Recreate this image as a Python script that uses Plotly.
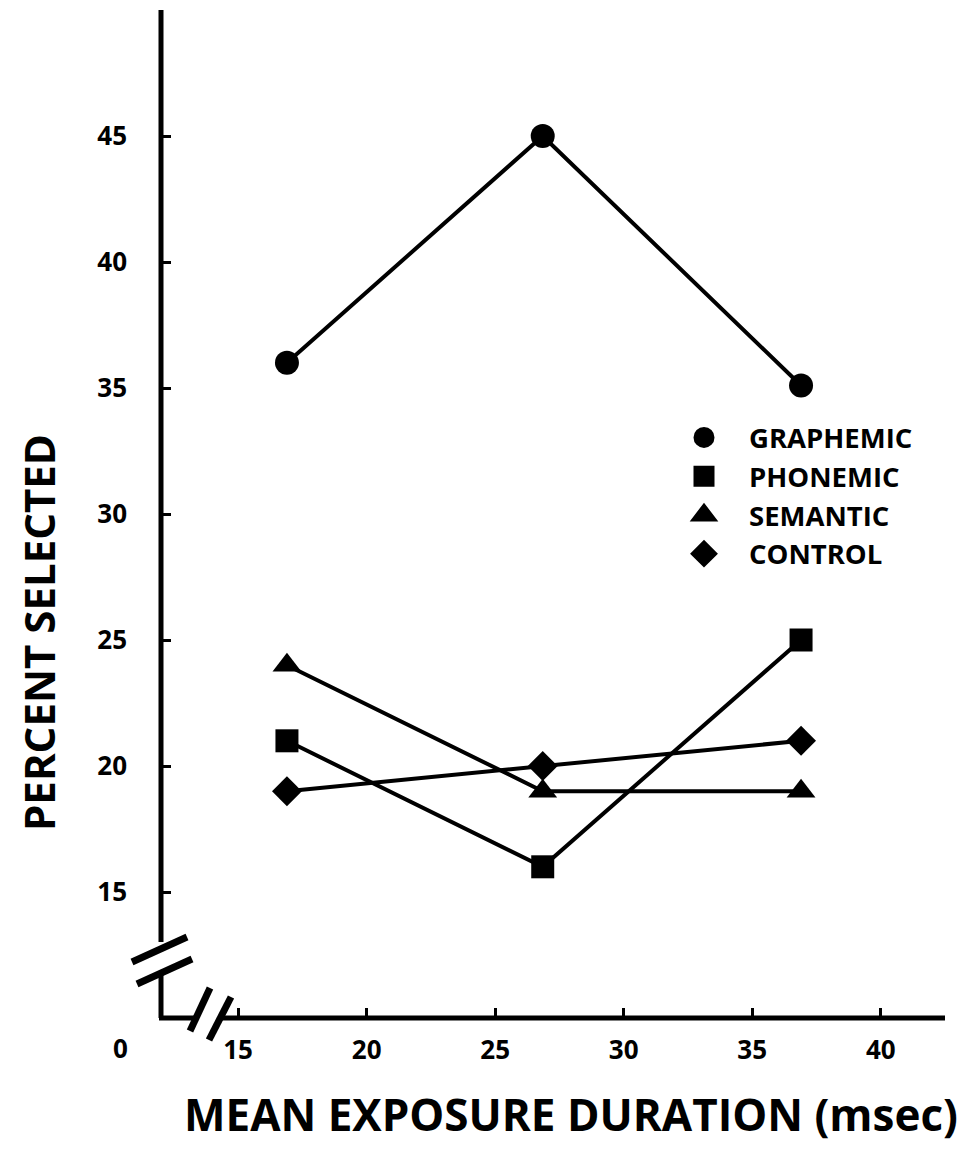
import plotly.graph_objects as go

# ---- data ----
durations = [16.9, 26.85, 36.9]
graphemic = [36, 45, 35.1]
phonemic = [21, 16, 25]
semantic = [24, 19, 19]
control = [19, 20, 21]

series_names = ["GRAPHEMIC", "PHONEMIC", "SEMANTIC", "CONTROL"]
series_values = [graphemic, phonemic, semantic, control]
series_symbols = ["circle", "square", "triangle-up", "diamond"]
series_sizes = [24, 23, 25, 23]

x_ticks = [15, 20, 25, 30, 35, 40]
y_ticks = [15, 20, 25, 30, 35, 40, 45]

# ---- layout geometry (page pixels; the page body has an 8px margin) ----
OFF = 8
PAGE_W, PAGE_H = 972, 1151
W, H = PAGE_W - 2 * OFF, PAGE_H - 2 * OFF
# plot area in page pixels
AX_L, AX_R, AX_T, AX_B = 161, 945, 10, 1018
L = AX_L - OFF
T = AX_T - OFF
R = W - (AX_R - OFF)
B = H - (AX_B - OFF)
PW = W - L - R
PH = H - T - B


def px(xp):
    return (xp - OFF - L) / PW


def py(yp):
    return (H - B - (yp - OFF)) / PH


FONT = "Open Sans"

fig = go.Figure()

for name, vals, sym, sz in zip(series_names, series_values, series_symbols, series_sizes):
    fig.add_trace(go.Scatter(
        x=durations, y=vals, mode="lines+markers", name=name,
        line=dict(color="black", width=4),
        marker=dict(symbol=sym, size=sz, color="black"),
        showlegend=False, cliponaxis=False,
    ))
    fig.add_trace(go.Scatter(
        x=[None], y=[None], mode="markers", name=name,
        marker=dict(symbol=sym, size=16, color="black",
                    line=dict(color="black", width=5)),
        showlegend=True,
    ))

shapes = []
lw = 5
# y axis (with break)
shapes.append(dict(type="line", xref="paper", yref="paper",
                   x0=px(161), x1=px(161), y0=py(10), y1=py(942),
                   line=dict(color="black", width=lw)))
shapes.append(dict(type="line", xref="paper", yref="paper",
                   x0=px(161), x1=px(161), y0=py(972), y1=py(1018),
                   line=dict(color="black", width=lw)))
# y break marks
for (xa, ya, xb, yb) in [(132, 962, 187, 937), (137, 984, 192, 959)]:
    shapes.append(dict(type="line", xref="paper", yref="paper",
                       x0=px(xa), y0=py(ya), x1=px(xb), y1=py(yb),
                       line=dict(color="black", width=7)))
# x axis (with break)
shapes.append(dict(type="line", xref="paper", yref="paper",
                   x0=px(159), x1=px(196), y0=py(1018), y1=py(1018),
                   line=dict(color="black", width=lw)))
shapes.append(dict(type="line", xref="paper", yref="paper",
                   x0=px(222), x1=px(945), y0=py(1018), y1=py(1018),
                   line=dict(color="black", width=lw)))
# x break marks
for (xa, ya, xb, yb) in [(190, 1031, 210, 988), (209, 1040, 231, 997)]:
    shapes.append(dict(type="line", xref="paper", yref="paper",
                       x0=px(xa), y0=py(ya), x1=px(xb), y1=py(yb),
                       line=dict(color="black", width=7)))

annotations = [
    dict(text="0", xref="paper", yref="paper", x=px(120), y=py(1048),
         xanchor="center", yanchor="middle", showarrow=False,
         font=dict(family=FONT, size=26, color="black", weight="bold")),
    dict(text="MEAN EXPOSURE DURATION (msec)", xref="paper", yref="paper",
         x=px(571), y=py(1114), xanchor="center", yanchor="middle",
         showarrow=False,
         font=dict(family=FONT, size=44, color="black", weight="bold")),
    dict(text="PERCENT SELECTED", xref="paper", yref="paper",
         x=px(38), y=py(633), xanchor="center", yanchor="middle",
         textangle=-90, showarrow=False,
         font=dict(family=FONT, size=42, color="black", weight="bold")),
]

fig.update_layout(
    width=W, height=H,
    margin=dict(l=L, r=R, t=T, b=B),
    paper_bgcolor="white", plot_bgcolor="white",
    shapes=shapes, annotations=annotations,
    showlegend=True,
    legend=dict(x=px(659), y=py(413), xanchor="left", yanchor="top",
                font=dict(family=FONT, size=27.5, color="black", weight="bold"),
                bgcolor="rgba(0,0,0,0)", itemsizing="trace", itemwidth=80,
                traceorder="normal"),
    xaxis=dict(range=[12, 42.5], tickvals=x_ticks,
               ticktext=[str(v) for v in x_ticks],
               ticks="inside", ticklen=10, tickwidth=3, tickcolor="black",
               showline=False, showgrid=False, zeroline=False,
               ticklabelstandoff=14,
               tickfont=dict(family=FONT, size=26, color="black", weight="bold")),
    yaxis=dict(range=[10, 50], tickvals=y_ticks,
               ticktext=[str(v) for v in y_ticks],
               ticks="inside", ticklen=10, tickwidth=3, tickcolor="black",
               showline=False, showgrid=False, zeroline=False,
               ticklabelstandoff=33,
               tickfont=dict(family=FONT, size=26, color="black", weight="bold")),
)

fig.write_html("out.html")
